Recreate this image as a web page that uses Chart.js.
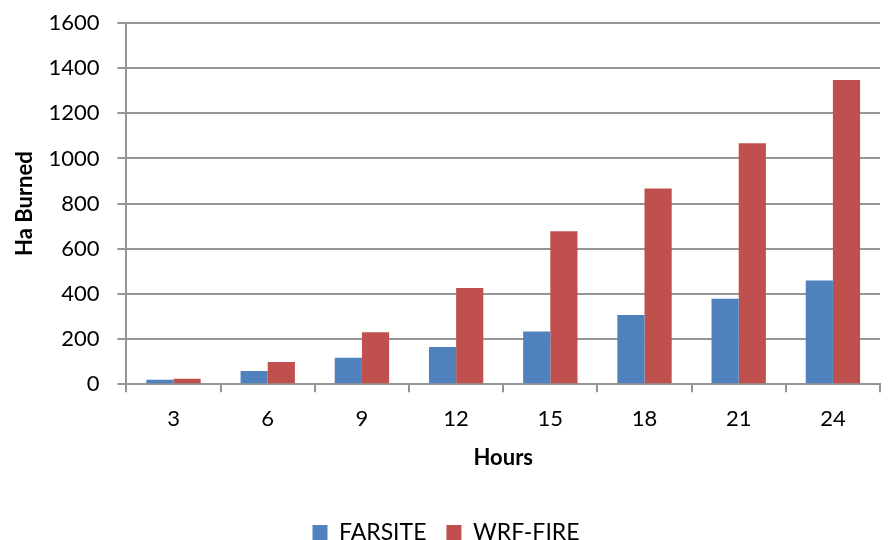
<!DOCTYPE html>
<html lang="en">
<head>
  <meta charset="UTF-8">
  <title>Ha Burned - FARSITE vs WRF-FIRE</title>
  <script src="https://cdn.jsdelivr.net/npm/chart.js"></script>
  <style>
    body { margin: 0; background: white; }
    canvas { display: block; }
  </style>
</head>
<body>
  <canvas id="burnChart" width="892" height="540"></canvas>

  <script>
    // Data
    const hours = ['3', '6', '9', '12', '15', '18', '21', '24'];
    const farsite = [20, 58, 117, 165, 233, 307, 378, 459];
    const wrfFire = [24, 98, 230, 426, 677, 867, 1067, 1348];
    const yTicks = [0, 200, 400, 600, 800, 1000, 1200, 1400, 1600];

    const blue = '#4F81BD';
    const red = '#C0504D';
    const gridGray = '#959595';
    const fontFamily = 'Lato, "Open Sans", sans-serif';

    const ctx = document.getElementById('burnChart').getContext('2d');
    const chart = new Chart(ctx, {
      type: 'bar',
      data: {
        labels: hours,
        datasets: [
          { label: 'FARSITE', data: farsite, backgroundColor: blue },
          { label: 'WRF-FIRE', data: wrfFire, backgroundColor: red }
        ]
      },
      options: {
        responsive: false,
        animation: false,
        categoryPercentage: 0.577,
        barPercentage: 1.0,
        layout: { padding: { top: 23, right: 12, left: 12, bottom: -14 } },
        plugins: {
          tooltip: { enabled: false },
          legend: {
            position: 'bottom',
            labels: {
              color: '#000',
              font: { family: fontFamily, size: 23 },
              boxWidth: 15,
              boxHeight: 15,
              padding: 20
            }
          }
        },
        scales: {
          x: {
            offset: true,
            grid: {
              offset: true,
              drawOnChartArea: false,
              color: gridGray,
              lineWidth: 2,
              tickLength: 8,
              tickColor: gridGray
            },
            border: { color: gridGray, width: 2 },
            ticks: { color: '#000', font: { family: fontFamily, size: 22 }, padding: 14 },
            title: {
              display: true,
              text: 'Hours',
              color: '#000',
              font: { family: fontFamily, size: 22, weight: 'bold' },
              padding: { top: -2, bottom: 30 }
            }
          },
          y: {
            min: 0,
            max: 1600,
            afterBuildTicks: axis => { axis.ticks = yTicks.map(v => ({ value: v })); },
            afterFit: axis => { axis.paddingTop = 0; axis.paddingBottom = 0; },
            grid: {
              color: gridGray,
              lineWidth: 2,
              tickLength: 9,
              tickColor: gridGray
            },
            border: { color: gridGray, width: 2 },
            ticks: {
              color: '#000',
              font: { family: fontFamily, size: 22 },
              padding: 18,
              callback: v => String(v)
            },
            title: {
              display: true,
              text: 'Ha Burned',
              color: '#000',
              font: { family: fontFamily, size: 22, weight: 'bold' },
              padding: { top: 0, bottom: -8 }
            }
          }
        }
      }
    });
  </script>
</body>
</html>
